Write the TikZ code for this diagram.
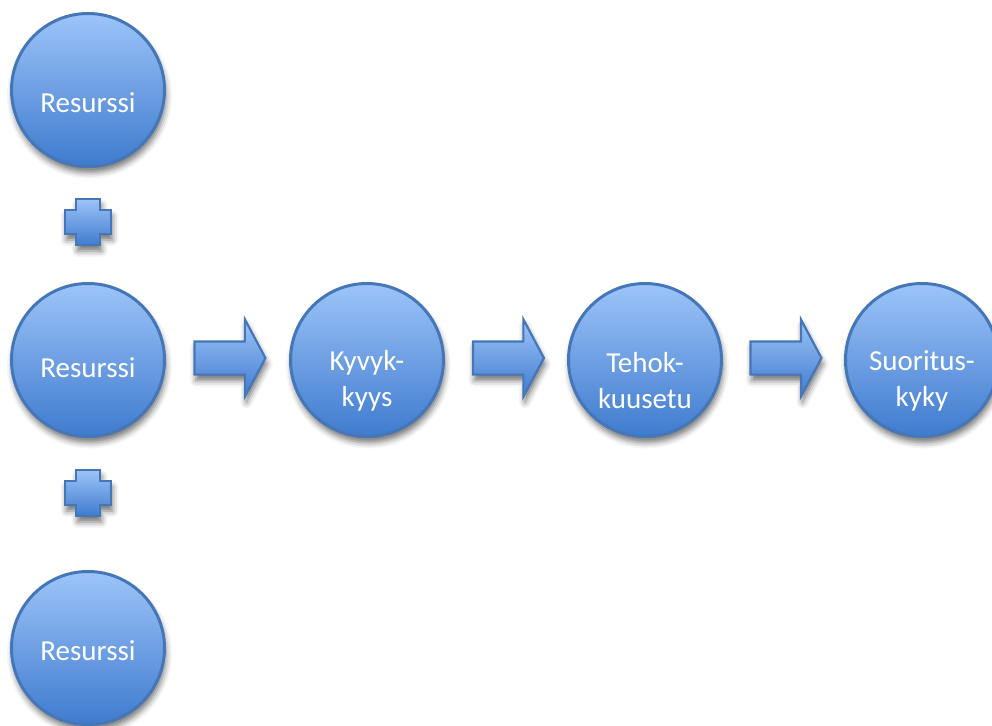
\documentclass[tikz,border=0pt]{standalone}
\usepackage{fontspec}
\setmainfont{Carlito}
\usetikzlibrary{positioning,calc,shapes.arrows,shadows.blur}

\definecolor{ballTop}{HTML}{9DC4F9}
\definecolor{ballBot}{HTML}{3F7BCE}
\definecolor{ballEdge}{HTML}{4577B8}

\begin{document}
\begin{tikzpicture}[x=1pt, y=-1pt,
  soft/.style={blur shadow={shadow xshift=1.5pt, shadow yshift=-6pt,
      shadow blur radius=6pt, shadow opacity=55}},
  ball/.style={circle, minimum size=153pt, inner sep=0pt, draw=ballEdge,
      line width=3pt, top color=ballTop, bottom color=ballBot, soft},
  balltext/.style={text=white, align=center, yshift=-8pt,
      font=\fontsize{29}{36}\selectfont},
  twoline/.style={balltext, yshift=-13pt},
  blockarr/.style={single arrow, draw=ballEdge, line width=2.2pt,
      top color=ballTop, bottom color=ballBot, soft,
      minimum height=71pt, inner xsep=0pt, inner ysep=15.5pt,
      single arrow head extend=22pt, single arrow tip angle=124}]
  \useasboundingbox (0,0) rectangle (992,725);

  % resources on the left
  \node[ball, label={[balltext, yshift=-5pt]center:Resurssi}] (r1) at (88,90)  {};
  \node[ball, label={[balltext]center:Resurssi}] (r2) at (88,360) {};
  \node[ball, label={[balltext, yshift=5pt]center:Resurssi}] (r3) at (88,648) {};

  % chain to the right
  \node[ball, label={[twoline]center:Kyvyk-\\kyys}] (kyky) at (367,360) {};
  \node[ball, label={[twoline]center:Tehok-\\kuusetu}] (teho) at (645,360) {};
  \node[ball, label={[twoline]center:Suoritus-\\kyky}] (suor) at (922,360) {};

  % plus signs between the resources
  \foreach \cx/\cy in {88/222, 88/493}
    \draw[ballEdge, line width=2.2pt, top color=ballTop, bottom color=ballBot, soft]
      (\cx,\cy) ++(-12,-23) -- ++(24,0) -- ++(0,11) -- ++(11,0) -- ++(0,24)
      -- ++(-11,0) -- ++(0,11) -- ++(-24,0) -- ++(0,-11) -- ++(-11,0)
      -- ++(0,-24) -- ++(11,0) -- cycle;

  % block arrows
  \node[blockarr] (a1) at ($(r2.east)!0.5!(kyky.west)+(-2,-2)$) {};
  \node[blockarr] (a2) at ($(kyky.east)!0.5!(teho.west)+(-2,-2)$) {};
  \node[blockarr] (a3) at ($(teho.east)!0.5!(suor.west)+(-2,-2)$) {};
\end{tikzpicture}
\end{document}
